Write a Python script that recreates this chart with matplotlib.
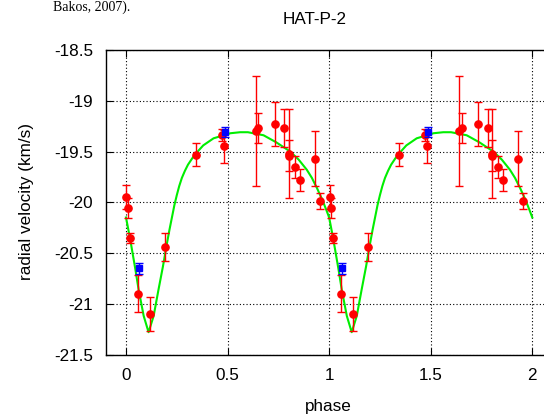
import numpy as np
import matplotlib.pyplot as plt

# red data (phase, rv, error) in km/s
red_phase = [0.002, 0.008, 0.021, 0.057, 0.116, 0.193, 0.344, 0.472, 0.480, 0.641,
             0.652, 0.731, 0.780, 0.800, 0.803, 0.833, 0.857, 0.931, 0.956]
red_rv = [-19.95, -20.06, -20.35, -20.90, -21.10, -20.44, -19.53, -19.34, -19.45, -19.30,
          -19.27, -19.23, -19.27, -19.52, -19.54, -19.65, -19.78, -19.57, -19.99]
red_err = [0.12, 0.10, 0.05, 0.18, 0.17, 0.14, 0.11, 0.06, 0.16, 0.54,
           0.15, 0.22, 0.19, 0.44, 0.15, 0.11, 0.11, 0.27, 0.08]

# blue data
blue_phase = [0.062, 0.485]
blue_rv = [-20.65, -19.31]
blue_err = [0.055, 0.05]

# orbit curve
curve_phase = [0.000, 0.021, 0.046, 0.062, 0.087, 0.111, 0.136, 0.160, 0.182, 0.202,
               0.214, 0.226, 0.238, 0.250, 0.262, 0.275, 0.290, 0.305, 0.325, 0.344,
               0.380, 0.431, 0.514, 0.562, 0.600, 0.677, 0.740, 0.808, 0.850, 0.890,
               0.915, 0.940, 0.965, 0.985, 1.000]
curve_rv = [-20.15, -20.37, -20.66, -20.86, -21.12, -21.28, -21.12, -20.86, -20.63, -20.40,
            -20.27, -20.15, -20.03, -19.93, -19.84, -19.76, -19.69, -19.63, -19.57, -19.52,
            -19.44, -19.37, -19.32, -19.31, -19.31, -19.34, -19.41, -19.50, -19.58, -19.68,
            -19.76, -19.86, -19.97, -20.07, -20.15]

plt.rcParams['font.family'] = ['Liberation Sans', 'DejaVu Sans']
plt.rcParams['font.size'] = 12.3

fig = plt.figure(figsize=(5.44, 4.16), dpi=100)
ax = fig.add_axes([0.1943, 0.1478, 0.8215, 0.7320])

# two cycles: phase and phase + 1
for shift in (0, 1):
    ax.plot(np.array(curve_phase) + shift, curve_rv, color='#00ee00', lw=1.5, zorder=2)
for shift in (0, 1):
    ax.errorbar(np.array(red_phase) + shift, red_rv, yerr=red_err, fmt='o', color='red',
                ms=5.2, elinewidth=1, capsize=3, capthick=1, zorder=3)
for shift in (0, 1):
    ax.errorbar(np.array(blue_phase) + shift, blue_rv, yerr=blue_err, fmt='s', color='blue',
                ms=5, elinewidth=1, capsize=3, capthick=1, zorder=4)

ax.set_xlim(-0.1, 2.1)
ax.set_ylim(-21.5, -18.5)
ax.set_xticks([0, 0.5, 1, 1.5, 2])
ax.set_xticklabels(['0', '0.5', '1', '1.5', '2'])
ax.set_yticks([-18.5, -19, -19.5, -20, -20.5, -21, -21.5])
ax.set_yticklabels(['-18.5', '-19', '-19.5', '-20', '-20.5', '-21', '-21.5'])
ax.tick_params(direction='in', top=True, right=True, length=5, width=0.8)
ax.tick_params(axis='x', pad=10)
ax.tick_params(axis='y', pad=9)
ax.grid(True, color='black', linestyle=(0, (1, 2)), linewidth=0.8)
ax.set_axisbelow(True)
for sp in ax.spines.values():
    sp.set_linewidth(1)

fig.text(315 / 544, 1 - 19 / 416, 'HAT-P-2', ha='center', va='center')
fig.text(328 / 544, 1 - 406 / 416, 'phase', ha='center', va='center')
fig.text(27 / 544, 1 - 202 / 416, 'radial velocity (km/s)', ha='center', va='center',
         rotation=90)
# caption line from the page above the chart
fig.text(130 / 544, 1 - 1 / 416, 'Bakos, 2007).', ha='right', va='top',
         family='Liberation Serif', fontsize=10)

fig.savefig('out.png', dpi=100)
